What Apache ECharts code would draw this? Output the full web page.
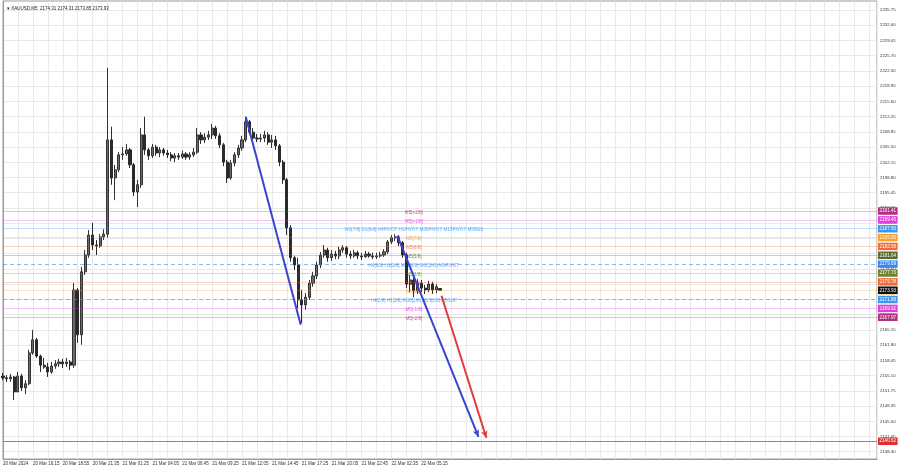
<!DOCTYPE html>
<html><head><meta charset="utf-8">
<script src="https://cdn.jsdelivr.net/npm/echarts@6/dist/echarts.min.js"></script>
<style>html,body{margin:0;padding:0;background:#fff}#c{width:900px;height:468px}</style>
</head><body><div id="c"></div>
<script>
// ---------- data ----------
const headerText = 'XAUUSD,M5  2174.31 2174.31 2173.85 2173.93';
const timeLabels = ['20 Mar 2024','20 Mar 16:15','20 Mar 18:55','20 Mar 21:35','21 Mar 01:25','21 Mar 04:05','21 Mar 06:45','21 Mar 09:25','21 Mar 12:05','21 Mar 14:45','21 Mar 17:25','21 Mar 20:05','21 Mar 22:45','22 Mar 02:35','22 Mar 05:15'];
const priceTicks = [2138.30,2141.65,2145.00,2148.35,2151.75,2155.10,2158.45,2161.80,2165.15,2168.55,2171.90,2175.25,2178.60,2182.00,2185.35,2188.70,2192.05,2195.45,2198.80,2202.15,2205.50,2208.85,2212.25,2215.60,2218.95,2222.30,2225.70,2229.05,2232.40,2235.75];

const opens = [2155.0,2154.6,2154.4,2154.8,2151.5,2155.0,2152.4,2153.3,2160.1,2163.0,
 2159.4,2157.4,2157.0,2155.9,2157.2,2157.7,2158.1,2157.7,2158.1,2157.4,
 2174.0,2164.1,2178.0,2181.7,2186.1,2183.9,2183.7,2185.7,2186.3,2207.1,
 2198.7,2200.5,2203.8,2204.0,2204.9,2201.6,2195.6,2197.2,2208.2,2204.9,
 2203.6,2205.5,2204.2,2204.9,2204.2,2203.8,2203.1,2203.6,2203.3,2204.0,
 2203.3,2203.8,2204.4,2208.2,2207.1,2207.7,2208.2,2209.7,2208.0,2206.0,
 2202.2,2198.7,2202.0,2203.8,2205.3,2207.1,2211.1,2208.8,2207.5,2207.3,
 2207.5,2208.2,2206.6,2207.1,2205.8,2202.2,2198.3,2187.7,2181.1,2179.5,
 2171.8,2170.7,2172.4,2175.5,2177.1,2179.5,2181.7,2182.8,2181.1,2181.9,
 2181.5,2182.8,2183.3,2181.9,2181.5,2182.2,2181.5,2181.3,2181.9,2181.5,
 2181.3,2181.5,2181.7,2182.4,2184.6,2185.5,2185.7,2184.4,2181.7,2175.3,
 2176.2,2173.8,2175.5,2174.4,2174.0,2175.3,2174.0,2174.31];
const highs = [2155.7,2155.2,2155.5,2155.0,2155.9,2155.5,2154.1,2160.8,2165.2,2163.4,
 2159.7,2159.0,2157.9,2158.1,2158.5,2158.8,2158.8,2159.0,2158.5,2175.5,
 2174.4,2179.1,2182.8,2187.2,2188.8,2185.0,2186.3,2187.4,2223.0,2210.0,
 2201.6,2204.4,2205.5,2206.2,2205.3,2202.0,2198.3,2209.7,2212.2,2205.3,
 2206.2,2206.0,2205.5,2205.3,2204.9,2204.4,2204.2,2204.2,2204.7,2204.4,
 2204.4,2205.3,2209.7,2208.8,2208.6,2209.1,2210.6,2210.2,2208.6,2206.4,
 2202.7,2202.7,2204.4,2206.0,2208.0,2212.2,2211.5,2209.7,2208.4,2208.4,
 2209.1,2208.8,2208.2,2208.0,2206.2,2202.7,2198.7,2188.3,2181.5,2181.1,
 2174.0,2173.3,2176.2,2178.0,2180.2,2182.4,2183.9,2183.3,2182.8,2182.6,
 2183.5,2183.9,2183.7,2182.6,2182.8,2182.6,2182.2,2182.6,2182.4,2182.2,
 2182.2,2182.4,2183.0,2185.0,2186.1,2186.3,2186.1,2184.8,2182.2,2177.3,
 2176.9,2176.4,2176.2,2175.1,2176.0,2175.8,2175.3,2174.31];
const lows = [2154.1,2153.7,2153.7,2149.7,2151.5,2151.7,2151.0,2153.0,2159.7,2159.0,
 2155.9,2156.6,2154.8,2155.5,2156.6,2157.0,2156.8,2157.0,2156.3,2156.8,
 2162.3,2161.9,2177.3,2181.1,2182.8,2181.7,2183.3,2185.0,2185.5,2197.2,
 2193.8,2200.0,2202.7,2203.6,2200.9,2194.7,2192.3,2196.5,2203.8,2202.7,
 2203.1,2203.6,2203.3,2203.6,2203.1,2202.4,2202.2,2202.7,2202.9,2202.7,
 2202.7,2203.3,2204.0,2206.2,2206.4,2207.1,2207.3,2207.3,2205.3,2201.3,
 2197.6,2198.3,2201.3,2203.1,2204.7,2206.6,2208.2,2206.9,2206.6,2206.6,
 2206.6,2206.0,2205.3,2204.9,2201.3,2197.4,2186.1,2180.2,2178.4,2170.0,
 2166.7,2169.6,2171.8,2174.7,2176.4,2178.8,2181.1,2180.2,2180.4,2180.8,
 2180.8,2182.2,2181.1,2180.8,2181.1,2180.8,2180.6,2181.1,2181.1,2180.8,
 2180.8,2181.1,2181.3,2181.9,2184.1,2184.8,2183.7,2181.1,2174.4,2173.5,
 2172.4,2173.1,2173.5,2173.1,2173.5,2173.1,2173.3,2173.85];
const closes = [2154.6,2154.4,2154.8,2151.5,2155.0,2152.4,2153.3,2160.1,2163.0,2159.4,
 2157.4,2157.0,2155.9,2157.2,2157.7,2158.1,2157.7,2158.1,2157.4,2174.0,
 2164.1,2178.0,2181.7,2186.1,2183.9,2183.7,2185.7,2186.3,2207.1,2198.7,
 2200.5,2203.8,2204.0,2204.9,2201.6,2195.6,2197.2,2208.2,2204.9,2203.6,
 2205.5,2204.2,2204.9,2204.2,2203.8,2203.1,2203.6,2203.3,2204.0,2203.3,
 2203.8,2204.4,2208.2,2207.1,2207.7,2208.2,2209.7,2208.0,2206.0,2202.2,
 2198.7,2202.0,2203.8,2205.3,2207.1,2211.1,2208.8,2207.5,2207.3,2207.5,
 2208.2,2206.6,2207.1,2205.8,2202.2,2198.3,2187.7,2181.1,2179.5,2171.8,
 2170.7,2172.4,2175.5,2177.1,2179.5,2181.7,2182.8,2181.1,2181.9,2181.5,
 2182.8,2183.3,2181.9,2181.5,2182.2,2181.5,2181.3,2181.9,2181.5,2181.3,
 2181.5,2181.7,2182.4,2184.6,2185.5,2185.7,2184.4,2181.7,2175.3,2176.2,
 2173.8,2175.5,2174.4,2174.0,2175.3,2174.0,2174.7,2173.93];

// Murrey math levels (-2/8 ... +2/8)
const mmLevels = [2167.97,2169.92,2171.88,2173.83,2175.78,2177.73,2179.69,2181.64,2183.59,2185.55,2187.50,2189.45,2191.41];
const mmTexts = ['M5[-2/8]','M5[-1/8]','H4[2/8] H1[2/8] M30[2/8] M15[2/8] M5SUP','M5[1/8]','M5[2/8]','M5[3/8]',
 'H4[3/8] H1[3/8] M30[3/8] M15[3/8] M5PIVOT','M5[5/8]','M5[6/8]','M5[7/8]',
 'W1[7/8] D1[6/8] H4PIVOT H1PIVOT M30PIVOT M15PIVOT M5RES','M5[+1/8]','M5[+2/8]'];
const lastPrice = 2173.93;
const targetLevel = 2140.62;

// trend lines (bar index, price)
const trendStartIdx = [65.0, 105.6, 117.4];
const trendStartPrice = [2212.2, 2185.9, 2172.7];
const trendEndIdx = [79.7, 127.3, 129.4];
const trendEndPrice = [2166.3, 2141.6, 2141.4];

// ---------- styles ----------
const mmColors = ['#b0307f','#e03ce0','#3a98f0','#f5a12a','#f06a3a','#6f8230','#3a88ee','#5a6a2a','#f06a3a','#f5a12a','#3a98f0','#e03ce0','#b0307f'];
const mmDashed = [false,false,true,false,false,false,true,false,false,false,false,false,false];
const trendColors = ['#3944cf','#3944cf','#e23a3a'];
const trendArrow = [false, true, true];
const FONT = 'Liberation Sans';
const textAnchorIdx = 110;
function alpha(hex, a){const n=parseInt(hex.slice(1),16);return 'rgba('+(n>>16)+','+((n>>8)&255)+','+(n&255)+','+a+')';}

const chart = echarts.init(document.getElementById('c'));
const candleData = opens.map((o,i)=>[i, o, closes[i], lows[i], highs[i]]);

const boxLabel = (txt,bg)=>({show:true, position:'end', formatter:txt, backgroundColor:bg, color:'#fff', opacity:1,
  fontSize:4.6, fontFamily:FONT, padding:[1.5,1.5,1,1.5], distance:1});
const levelMarks = mmLevels.map((p,i)=>({
  yAxis: p,
  lineStyle:{color: alpha(mmColors[i], mmDashed[i]?0.6:0.3), opacity:1, type: mmDashed[i]?[4,3]:'solid', width:1},
  label: boxLabel(p.toFixed(2), mmColors[i])
}));
levelMarks.push({yAxis: targetLevel, lineStyle:{color:'rgba(224,70,70,0.85)', opacity:1, type:'solid', width:1},
  label: boxLabel(targetLevel.toFixed(2), '#e03030')});

const trendMarks = trendStartIdx.map((x,i)=>[
  {coord:[x, trendStartPrice[i]], symbol:'none', lineStyle:{color:trendColors[i], width:2, type:'solid'}},
  {coord:[trendEndIdx[i], trendEndPrice[i]], symbol: trendArrow[i]?'arrow':'none', symbolSize:[5,7]}
]);

chart.setOption({
  animation:false,
  backgroundColor:'#fff',
  textStyle:{fontFamily:FONT},
  title:{text: '\u25BE ' + headerText, left:2, top:1, textStyle:{fontSize:4.5, fontWeight:'normal', color:'#222', fontFamily:FONT}},
  grid:{left:2, right:23, top:1, bottom:9, show:true, borderColor:'#9a9a9a', borderWidth:1},
  xAxis:{type:'value', min:0, max:234, interval:4,
    axisLine:{show:true, lineStyle:{color:'#9a9a9a'}},
    axisTick:{show:false},
    axisLabel:{formatter:v=>(v%8===0 && timeLabels[v/8]) ? timeLabels[v/8] : '', align:'left', fontSize:4.5, margin:2, color:'#333', fontFamily:FONT, showMaxLabel:false},
    splitLine:{show:true, lineStyle:{color:'#e9e9e9', width:1}}},
  yAxis:{type:'value', position:'right', min:2136.7, max:2237.74,
    axisLine:{show:true, lineStyle:{color:'#9a9a9a'}},
    axisTick:{show:false, customValues:priceTicks},
    axisLabel:{customValues:priceTicks, formatter:v=>v.toFixed(2), fontSize:4.3, color:'#333', margin:3, fontFamily:FONT},
    splitLine:{show:true, lineStyle:{color:'#e9e9e9', width:1}}},
  series:[
    {type:'scatter', name:'levels', z:1, silent:true, symbolSize:0,
     data: mmLevels.map((p,i)=>({value:[textAnchorIdx, p],
        label:{show:true, position:'inside', offset:[0,1.5], formatter:mmTexts[i], color:mmColors[i], fontSize:4.6, fontFamily:FONT}})),
     markLine:{silent:true, symbol:'none', animation:false, data: levelMarks}},
    {type:'candlestick', name:'XAUUSD', z:3, barWidth:2.6, data: candleData,
     itemStyle:{color:'#6a6a6a', color0:'#2a2a2a', borderColor:'#333', borderColor0:'#2a2a2a', borderWidth:1},
     markLine:{silent:true, symbol:'none', animation:false,
       data:[{yAxis:lastPrice, lineStyle:{color:'rgba(0,0,0,0)'}, label: boxLabel(lastPrice.toFixed(2), '#111')}]}},
    {type:'line', name:'trend', z:4, data:[], silent:true,
     markLine:{silent:true, animation:false, symbol:['none','arrow'], label:{show:false}, data: trendMarks}}
  ]
});
</script></body></html>
